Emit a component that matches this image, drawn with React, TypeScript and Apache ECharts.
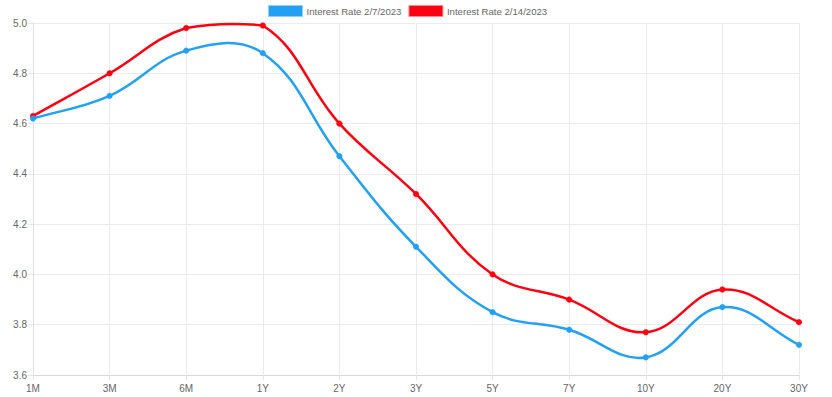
import React, { useEffect, useRef } from "react";
import * as echarts from "echarts";

const categories = ["1M", "3M", "6M", "1Y", "2Y", "3Y", "5Y", "7Y", "10Y", "20Y", "30Y"];
const rateFeb7 = [4.62, 4.71, 4.89, 4.88, 4.47, 4.11, 3.85, 3.78, 3.67, 3.87, 3.72];
const rateFeb14 = [4.63, 4.80, 4.98, 4.99, 4.60, 4.32, 4.00, 3.90, 3.77, 3.94, 3.81];
const seriesNames = ["Interest Rate 2/7/2023", "Interest Rate 2/14/2023"];

const BLUE = "#22a0f6";
const RED = "#ff0013";
const FONT = "'Liberation Sans', Helvetica, Arial, sans-serif";
const TENSION = 0.4;

function makeRender(values: number[], color: string) {
  return (params: any, api: any) => {
    if (params.dataIndex !== 0) return null;
    const cs = params.coordSys;
    const pts = values.map((v, i) => api.coord([i, v]) as number[]);
    const cx = (x: number) => Math.max(Math.min(x, cs.x + cs.width), cs.x);
    const cy = (y: number) => Math.max(Math.min(y, cs.y + cs.height), cs.y);
    const cps = pts.map((cur, i) => {
      const prev = pts[i - 1] || cur;
      const next = pts[i + 1] || cur;
      const d01 = Math.hypot(cur[0] - prev[0], cur[1] - prev[1]);
      const d12 = Math.hypot(next[0] - cur[0], next[1] - cur[1]);
      let s01 = d01 / (d01 + d12);
      let s12 = d12 / (d01 + d12);
      if (!isFinite(s01)) s01 = 0;
      if (!isFinite(s12)) s12 = 0;
      const fa = TENSION * s01;
      const fb = TENSION * s12;
      return {
        p: [cx(cur[0] - fa * (next[0] - prev[0])), cy(cur[1] - fa * (next[1] - prev[1]))],
        n: [cx(cur[0] + fb * (next[0] - prev[0])), cy(cur[1] + fb * (next[1] - prev[1]))],
      };
    });
    let d = `M${pts[0][0]},${pts[0][1]}`;
    for (let i = 1; i < pts.length; i++) {
      const a = cps[i - 1].n;
      const b = cps[i].p;
      d += ` C${a[0]},${a[1]} ${b[0]},${b[1]} ${pts[i][0]},${pts[i][1]}`;
    }
    const children: any[] = [
      {
        type: "path",
        shape: { pathData: d },
        style: { fill: "none", stroke: color, lineWidth: 2.5, lineJoin: "round" },
      },
    ];
    pts.forEach((p) => {
      children.push({
        type: "circle",
        shape: { cx: p[0], cy: p[1], r: 2.8 },
        style: { fill: color, stroke: color, lineWidth: 0.5 },
      });
    });
    return { type: "group", children };
  };
}

export default function App() {
  const ref = useRef<HTMLDivElement>(null);
  useEffect(() => {
    if (!ref.current) return;
    const chart = echarts.init(ref.current, undefined, { renderer: "svg" });
    chart.setOption({
      animation: false,
      textStyle: { fontFamily: FONT },
      legend: {
        top: 5,
        left: 268,
        padding: 0,
        itemWidth: 34,
        itemHeight: 11,
        itemGap: 7,
        icon: "rect",
        textStyle: { color: "#666", fontSize: 9.6, fontFamily: FONT, padding: [0, 0, 0, -1] },
        data: [
          { name: seriesNames[0], itemStyle: { color: BLUE, borderColor: "#8fd0fb", borderWidth: 1 } },
          { name: seriesNames[1], itemStyle: { color: RED, borderColor: "#ff8a90", borderWidth: 1 } },
        ],
      },
      grid: { left: 33, right: 33, top: 23, bottom: 22, containLabel: false },
      xAxis: {
        type: "category",
        data: categories,
        boundaryGap: false,
        axisLine: { show: true, lineStyle: { color: "#d9d9d9", width: 1 } },
        axisTick: { show: true, alignWithLabel: true, length: 5, lineStyle: { color: "#e6e6e6" } },
        splitLine: { show: true, lineStyle: { color: "#ebebeb", width: 1 } },
        axisLabel: { color: "#666", fontSize: 10, margin: 8, fontFamily: FONT },
      },
      yAxis: {
        type: "value",
        min: 3.6,
        max: 5.0,
        interval: 0.2,
        axisLine: { show: true, lineStyle: { color: "#e0e0e0", width: 1 } },
        axisTick: { show: true, length: 5, lineStyle: { color: "#e6e6e6" } },
        splitLine: { show: true, lineStyle: { color: "#ebebeb", width: 1 } },
        axisLabel: {
          color: "#666",
          fontSize: 10,
          margin: 6,
          fontFamily: FONT,
          formatter: (v: number) => v.toFixed(1),
        },
      },
      series: [
        {
          name: seriesNames[1],
          type: "custom",
          data: rateFeb14.map((v, i) => [i, v]),
          encode: { x: 0, y: 1 },
          itemStyle: { color: RED },
          renderItem: makeRender(rateFeb14, RED),
          z: 2,
        },
        {
          name: seriesNames[0],
          type: "custom",
          data: rateFeb7.map((v, i) => [i, v]),
          encode: { x: 0, y: 1 },
          itemStyle: { color: BLUE },
          renderItem: makeRender(rateFeb7, BLUE),
          z: 3,
        },
      ],
    });
    return () => chart.dispose();
  }, []);
  return <div ref={ref} style={{ width: 832, height: 397, position: "absolute", left: 0, top: 0 }} />;
}
